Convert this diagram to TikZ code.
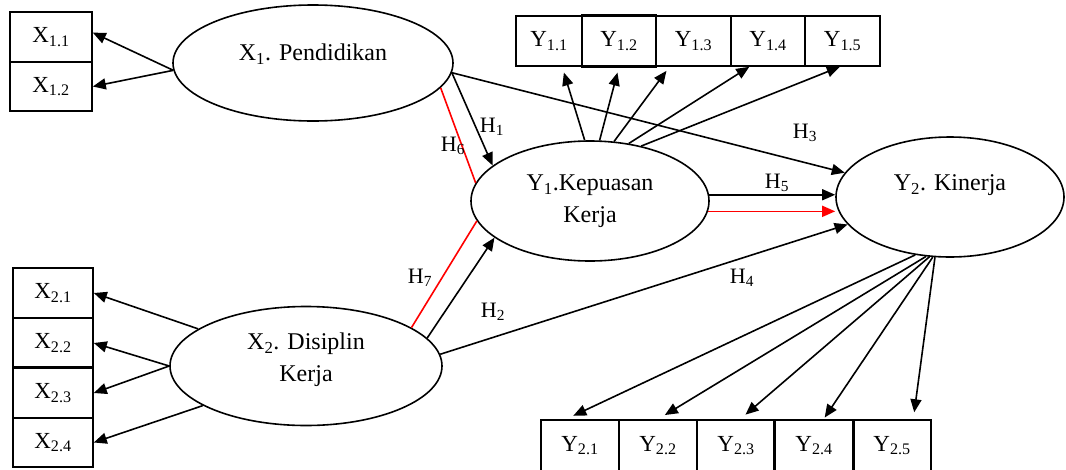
\documentclass[tikz,border=0pt]{standalone}
\usepackage{fontspec}
\setmainfont{Liberation Serif}
\usetikzlibrary{shapes.geometric,arrows.meta}
\begin{document}
\begin{tikzpicture}[x=1pt,y=-1pt,line width=1.6pt,
  box/.style={draw, rectangle, inner sep=0pt, font=\fontsize{23}{26}\selectfont},
  lat/.style={draw, ellipse, inner sep=0pt},
  lattext/.style={font=\fontsize{24}{32}\selectfont, align=center, inner sep=0pt},
  arr/.style={-{Triangle[length=13pt,width=11pt]}},
  hlab/.style={font=\fontsize{22}{24}\selectfont, inner sep=0pt}]
\fill[white] (0,0) rectangle (1066,469);
\useasboundingbox (0,0) rectangle (1066,469);

% indicator boxes X1
\node[box, minimum width=82pt, minimum height=50pt] (x11) at (51,37) {X\textsubscript{1.1}};
\node[box, minimum width=82pt, minimum height=49pt] (x12) at (51,86.5) {X\textsubscript{1.2}};
% indicator boxes X2
\node[box, minimum width=80pt, minimum height=50pt] (x21) at (53,293) {X\textsubscript{2.1}};
\node[box, minimum width=80pt, minimum height=50pt] (x22) at (53,343) {X\textsubscript{2.2}};
\node[box, minimum width=80pt, minimum height=50pt] (x23) at (53,393) {X\textsubscript{2.3}};
\node[box, minimum width=80pt, minimum height=49pt] (x24) at (53,442.5) {X\textsubscript{2.4}};
\draw[line width=2.8pt] (x23.north west) -- (x23.north east);
% indicator boxes Y1
\node[box, minimum width=66pt, minimum height=50pt] (y11) at (549,41) {Y\textsubscript{1.1}};
\node[box, minimum width=74pt, minimum height=50pt] (y12) at (619,41) {Y\textsubscript{1.2}};
\node[box, minimum width=75pt, minimum height=50pt] (y13) at (693.5,41) {Y\textsubscript{1.3}};
\node[box, minimum width=74pt, minimum height=50pt] (y14) at (768,41) {Y\textsubscript{1.4}};
\node[box, minimum width=75pt, minimum height=50pt] (y15) at (842.5,41) {Y\textsubscript{1.5}};
\draw[line width=2.6pt] (y12.north west) -- (y12.north east) (y12.south west) -- (y12.south east);
% indicator boxes Y2
\node[box, minimum width=78pt, minimum height=51pt] (y21) at (580,445.5) {Y\textsubscript{2.1}};
\node[box, minimum width=78pt, minimum height=51pt] (y22) at (658,445.5) {Y\textsubscript{2.2}};
\node[box, minimum width=78pt, minimum height=51pt] (y23) at (736,445.5) {Y\textsubscript{2.3}};
\node[box, minimum width=78pt, minimum height=51pt] (y24) at (814,445.5) {Y\textsubscript{2.4}};
\node[box, minimum width=78pt, minimum height=51pt] (y25) at (892,445.5) {Y\textsubscript{2.5}};
\draw[line width=2.6pt] (y24.north west) -- (y24.south west) (y24.north east) -- (y24.south east);

% latent variables
\node[lat, minimum width=280pt, minimum height=116pt,
  label={[lattext, yshift=9pt]center:X\textsubscript{1}. Pendidikan}] (X1) at (313,63) {};
\node[lat, minimum width=238pt, minimum height=120pt, lattext] (Y1) at (590,201)
  {Y\textsubscript{1}.Kepuasan\\Kerja};
\node[lat, minimum width=228pt, minimum height=120pt,
  label={[lattext, yshift=12pt]center:Y\textsubscript{2}. Kinerja}] (Y2) at (950,197) {};
\node[lat, minimum width=272pt, minimum height=119pt,
  label={[lattext, yshift=6pt]center:X\textsubscript{2}. Disiplin\\Kerja}] (X2) at (306,366) {};

% X1 indicators
\draw[arr] (X1.183) -- (x11.6);
\draw[arr] (X1.183) -- (x12.east);
% X2 indicators
\draw[arr] (X2.161) -- (x21.east);
\draw[arr] (X2.180) -- (x22.east);
\draw[arr] (X2.180) -- (x23.east);
\draw[arr] (X2.201) -- (x24.east);
% Y1 indicators
\draw[arr, shorten >=6pt] (Y1.95) -- (y11.297);
\draw[arr, shorten >=6pt] (Y1.81) -- (y12.south);
\draw[arr, shorten >=5pt] (Y1.68) -- (y13.227);
\draw[arr] (Y1.56) -- (y14.234);
\draw[arr] (Y1.47) -- (y15.264);
% Y2 indicators
\draw[arr, shorten >=8pt] (Y2.239) -- (y21.118);
\draw[arr, shorten >=8pt] (Y2.248) -- (y22.north);
\draw[arr, shorten >=7pt] (Y2.251) -- (y23.81);
\draw[arr, shorten >=2pt] (Y2.254) -- (y24.70);
\draw[arr, shorten >=7pt] (Y2.256) -- (y25.51);

% structural paths
\draw[arr] (X1.356) -- (Y1.160);
\draw[arr] (X1.356) -- (Y2.167);
\draw[red] (X1.349) -- (Y1.171);
\draw[red] (X2.20) -- (Y1.190);
\draw[arr] (X2.13) -- (Y1.201);
\draw[arr] (X2.5) -- (Y2.195);
\draw[arr] (Y1.3) -- (Y1.3 -| Y2.west);
\draw[arr, red] (Y1.355) -- (Y1.355 -| Y2.west);

% hypothesis labels
\node[hlab] (h1) at (492,127) {H\textsubscript{1}};
\node[hlab] (h6) at (453,146) {H\textsubscript{6}};
\node[hlab] (h3) at (805,133) {H\textsubscript{3}};
\node[hlab] (h5) at (777,183) {H\textsubscript{5}};
\node[hlab] (h4) at (742,278) {H\textsubscript{4}};
\node[hlab] (h2) at (493,312) {H\textsubscript{2}};
\node[hlab] (h7) at (420,278) {H\textsubscript{7}};
\end{tikzpicture}
\end{document}
